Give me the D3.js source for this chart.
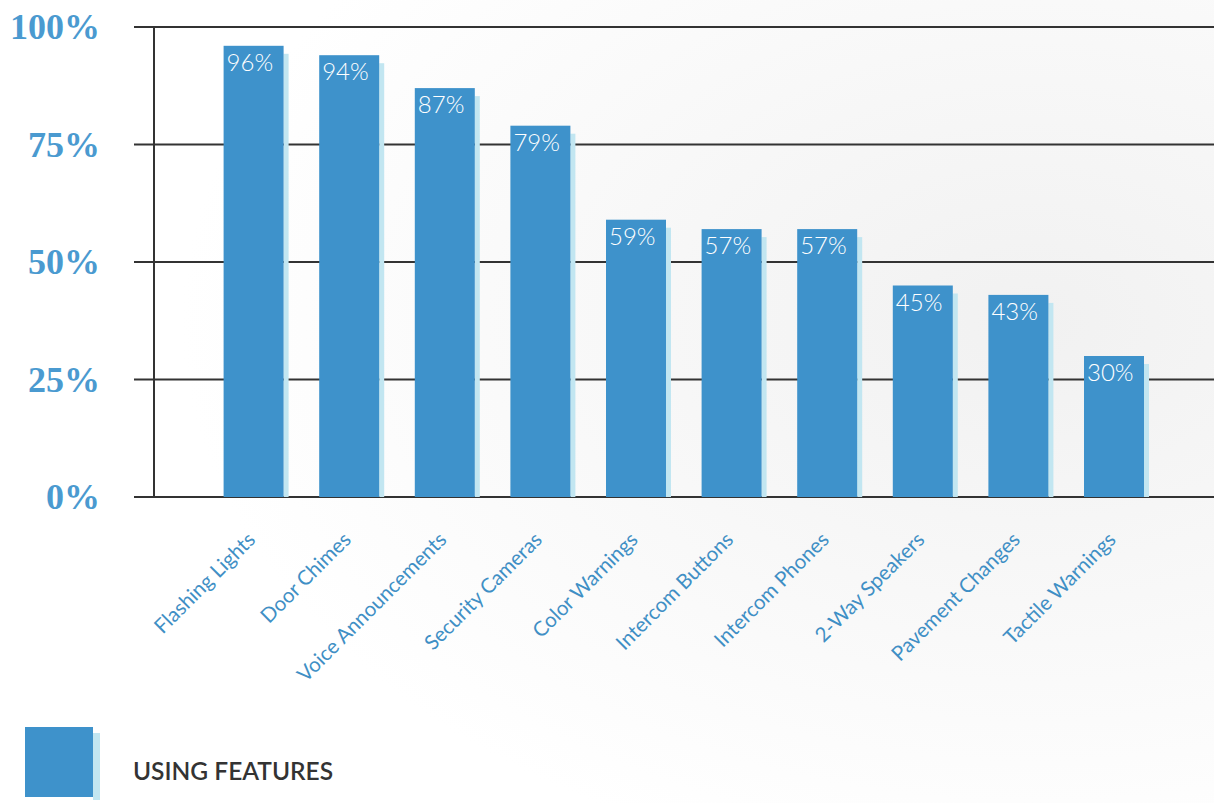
<!DOCTYPE html>
<html>
<head>
<meta charset="utf-8">
<script src="https://cdn.jsdelivr.net/npm/d3@7"></script>
<style>
  html, body { margin: 0; padding: 0; background: #fff; }
  svg { display: block; }
</style>
</head>
<body>
<svg id="chart" width="1214" height="803"></svg>
<script>
// Share of respondents using each accessibility feature
const categories = [
  "Flashing Lights", "Door Chimes", "Voice Announcements", "Security Cameras",
  "Color Warnings", "Intercom Buttons", "Intercom Phones", "2-Way Speakers",
  "Pavement Changes", "Tactile Warnings"
];
const usingValues = [96, 94, 87, 79, 59, 57, 57, 45, 43, 30];
const yTicks = [0, 25, 50, 75, 100];
const tickLabels = ["0%", "25%", "50%", "75%", "100%"];
const legendLabel = "USING FEATURES";

const BAR = "#3e92cb";
const SHADOW = "#c2e6f1";
const TICK_TEXT = "#4a9ad0";
const CAT_TEXT = "#3f8fc5";
const LINE = "#333";

const svg = d3.select("#chart");
const W = 1214, H = 803;

// faint paper tone toward the right edge
const defs = svg.append("defs");
const grad = defs.append("radialGradient").attr("id", "paper")
  .attr("cx", "85%").attr("cy", "40%").attr("r", "70%");
grad.append("stop").attr("offset", "0%").attr("stop-color", "#f1f1f1");
grad.append("stop").attr("offset", "100%").attr("stop-color", "#ffffff");
svg.append("rect").attr("width", W).attr("height", H).attr("fill", "url(#paper)");

const x = d3.scaleBand()
  .domain(categories)
  .range([154, 1213.6])
  .paddingInner(0.3724)
  .paddingOuter(0.728);

const y = d3.scaleLinear().domain([0, 100]).range([497, 27]);

// horizontal gridlines with short ticks left of the axis
svg.append("g").selectAll("line").data(yTicks).join("line")
  .attr("x1", 134).attr("x2", W)
  .attr("y1", d => y(d)).attr("y2", d => y(d))
  .attr("stroke", LINE).attr("stroke-width", 2);

// vertical axis line
svg.append("line")
  .attr("x1", 154).attr("x2", 154)
  .attr("y1", y(100)).attr("y2", y(0))
  .attr("stroke", LINE).attr("stroke-width", 2);

// y tick labels
svg.append("g").selectAll("text").data(yTicks).join("text")
  .attr("x", 100).attr("y", d => y(d) + 12)
  .attr("text-anchor", "end")
  .attr("font-family", "'Liberation Serif', 'DejaVu Serif', serif")
  .attr("font-weight", "bold")
  .attr("font-size", 36)
  .attr("fill", TICK_TEXT)
  .text((d, i) => tickLabels[i]);

const data = categories.map((c, i) => ({ c, v: usingValues[i] }));

const bars = svg.append("g").selectAll("g").data(data).join("g");

// light offset shadow on the right side of each bar
bars.append("rect")
  .attr("x", d => x(d.c) + x.bandwidth())
  .attr("y", d => y(d.v) + 8)
  .attr("width", 5)
  .attr("height", d => y(0) - y(d.v) - 8)
  .attr("fill", SHADOW);

bars.append("rect")
  .attr("x", d => x(d.c))
  .attr("y", d => y(d.v))
  .attr("width", x.bandwidth())
  .attr("height", d => y(0) - y(d.v))
  .attr("fill", BAR);

// value labels inside bar tops
bars.append("text")
  .attr("x", d => x(d.c) + 3)
  .attr("y", d => y(d.v) + 25)
  .attr("font-family", "Lato, 'Open Sans', sans-serif")
  .attr("font-weight", 300)
  .attr("font-size", 24)
  .attr("fill", "#fff")
  .text(d => d.v + "%");

// rotated category labels
svg.append("g").selectAll("text").data(categories).join("text")
  .attr("transform", d => `translate(${x(d) + x.bandwidth() / 2 + 3},541) rotate(-45)`)
  .attr("text-anchor", "end")
  .attr("font-family", "Lato, 'Open Sans', sans-serif")
  .attr("font-size", 20.5)
  .attr("fill", CAT_TEXT)
  .text(d => d);

// legend
const lg = svg.append("g");
lg.append("rect").attr("x", 93).attr("y", 733).attr("width", 7).attr("height", 67).attr("fill", SHADOW);
lg.append("rect").attr("x", 25).attr("y", 727).attr("width", 68).attr("height", 70).attr("fill", BAR);
lg.append("text")
  .attr("x", 133).attr("y", 780)
  .attr("font-family", "Lato, 'Open Sans', sans-serif")
  .attr("font-weight", 600)
  .attr("font-size", 24.5)
  .attr("fill", "#333")
  .text(legendLabel);
</script>
</body>
</html>
